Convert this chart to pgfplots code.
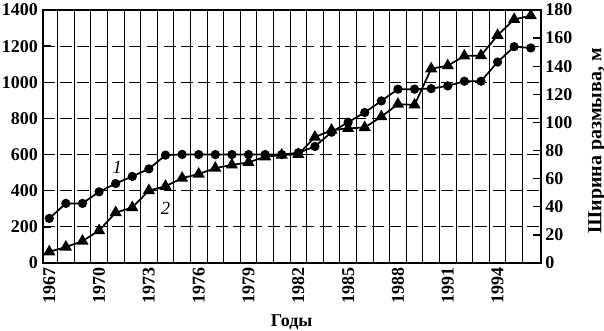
\documentclass[border=0pt]{standalone}
\usepackage{fontspec}
\setmainfont{Liberation Serif}
\usepackage{pgfplots}
\usepackage{pgfplotstable}
\pgfplotsset{compat=1.18}
\pgfplotstableread{
year v
1967 247
1968 330
1969 330
1970 394
1971 440
1972 479
1973 521
1974 597
1975 601
1976 600
1977 600
1978 600
1979 600
1980 600
1981 600
1982 610
1983 645
1984 724
1985 779
1986 833
1987 897
1988 962
1989 962
1990 965
1991 980
1992 1006
1993 1006
1994 1112
1995 1197
1996 1190
}\dataone
\pgfplotstableread{
year w
1967 8.0
1968 11.4
1969 15.6
1970 23.1
1971 35.9
1972 39.5
1973 51.6
1974 54.6
1975 60.4
1976 63.3
1977 67.5
1978 69.8
1979 71.6
1980 75.6
1981 76.8
1982 77.3
1983 89.6
1984 94.5
1985 95.8
1986 96.4
1987 104.1
1988 113.0
1989 112.5
1990 138.2
1991 140.4
1992 147.3
1993 147.6
1994 162.0
1995 173.3
1996 176.0
}\datatwo
\begin{document}
\begin{tikzpicture}
\pgfplotsset{
  common/.style={
    scale only axis, width=374pt, height=190pt,
    xmin=1966.6, xmax=1996.6,
    tick align=inside,
    axis line style={line width=1.5pt},
    /pgf/number format/assume math mode=true,
    /pgf/number format/1000 sep={},
    tick label style={font=\bfseries\fontsize{13.5}{16}\selectfont},
    major tick style={line width=1pt, black},
    major tick length=6pt,
    clip=false,
  }
}
\begin{axis}[common, name=ax,
  ymin=0, ymax=1400, ytick={0,200,...,1400}, ytick pos=left,
  xtick={1967,1970,...,1994}, xtick pos=bottom,
  minor xtick={1967.5,1968.5,...,1995.5},
  xminorgrids, ymajorgrids,
  minor grid style={black, line width=0.7pt},
  major grid style={black, line width=0.7pt, dash pattern=on 9pt off 4pt},
  xtick style={draw=none},
  minor tick length=0pt,
  xticklabel style={rotate=90, anchor=east},
  xlabel={Годы},
  xlabel style={at={(axis description cs:0.5,-0.235)}, anchor=center, font=\bfseries\fontsize{13.5}{16}\selectfont},
]
\addplot[black, line width=1.3pt, mark=*, mark size=2.8pt] table[x=year, y=v] {\dataone};
\node[font=\itshape\fontsize{14}{16}\selectfont] at (axis cs:1971.1,530) {1};
\node[font=\itshape\fontsize{14}{16}\selectfont] at (axis cs:1974,302) {2};
\end{axis}
\begin{axis}[common,
  ymin=0, ymax=180, ytick={0,20,...,180},
  axis y line*=right, axis x line=none,
  ylabel={Ширина размыва, м},
  ylabel style={at={(axis description cs:1.113,0.484)}, anchor=center, font=\bfseries\fontsize{15}{18}\selectfont},
]
\addplot[black, line width=1.3pt, mark=triangle*, mark size=4pt] table[x=year, y=w] {\datatwo};
\end{axis}
\pgfresetboundingbox
\path ([xshift=-32pt,yshift=-51pt]ax.south west) rectangle ([xshift=47.5pt,yshift=7.5pt]ax.north east);
\end{tikzpicture}
\end{document}
